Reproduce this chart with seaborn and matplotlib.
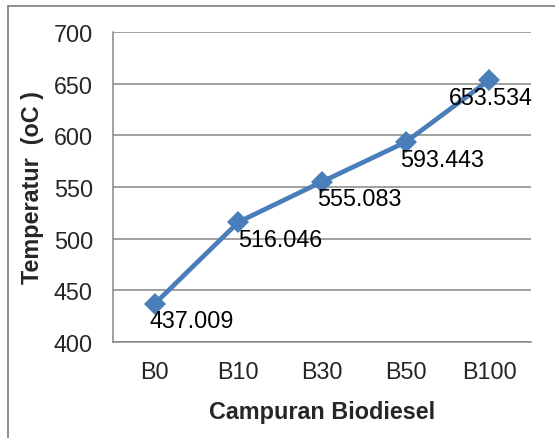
import matplotlib
matplotlib.use("Agg")
import matplotlib.pyplot as plt
import seaborn as sns
import pandas as pd
from matplotlib.lines import Line2D

sns.set_style("white")
plt.rcParams['font.family'] = ['Liberation Sans', 'DejaVu Sans']

campuran = ['B0', 'B10', 'B30', 'B50', 'B100']
temperatur = [437.009, 516.046, 555.083, 593.443, 653.534]
label_dx = [-5, 0, -5, -5, -40]
df = pd.DataFrame({'Campuran': campuran, 'Temperatur': temperatur})

grey = '#868686'
blue = '#4A7EBB'
fs = 16.8

fig = plt.figure(figsize=(5.55, 4.39), dpi=100)
ax = fig.add_axes([113/555, 1-343/439, 418/555, 310/439])

sns.lineplot(data=df, x='Campuran', y='Temperatur', ax=ax, color=blue,
             linewidth=3.4, marker='D', markersize=11, markeredgewidth=0,
             sort=False, zorder=3)

for i, (c, v) in enumerate(zip(campuran, temperatur)):
    ax.annotate(f'{v:.3f}', (i, v), xytext=(label_dx[i], -17),
                textcoords='offset pixels', ha='left', va='center',
                fontsize=fs, color='black', zorder=4)

ax.set_ylim(400, 700)
ax.set_yticks(range(400, 701, 50))
ax.set_xlim(-0.5, 4.5)
ax.yaxis.grid(True, color=grey, linewidth=1.1)
ax.set_axisbelow(True)
for s in ['top', 'right']:
    ax.spines[s].set_visible(False)
for s in ['left', 'bottom']:
    ax.spines[s].set_color(grey)
    ax.spines[s].set_linewidth(1.1)
ax.tick_params(axis='both', length=0, labelsize=fs)
ax.tick_params(axis='y', pad=14.5)
ax.tick_params(axis='x', pad=13)
ax.set_xlabel('Campuran Biodiesel', fontsize=fs, fontweight='bold', labelpad=12)
ax.set_ylabel('Temperatur  (oC )', fontsize=fs, fontweight='bold', labelpad=7)

# outer chart frame
fig.add_artist(Line2D([8/555, 8/555], [0, 1-7/439], color=grey, linewidth=1.3))
fig.add_artist(Line2D([8/555, 1], [1-7/439, 1-7/439], color=grey, linewidth=1.3))

fig.savefig('out.png', dpi=100)
